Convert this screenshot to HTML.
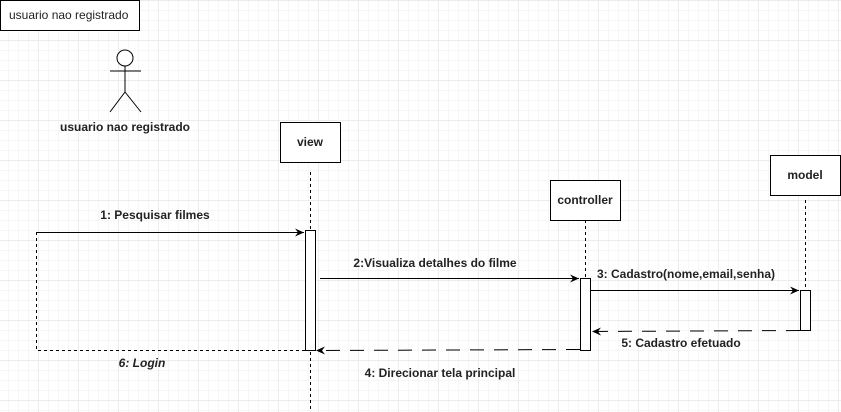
<!DOCTYPE html>
<html><head><meta charset="utf-8"><style>
body{margin:0;width:841px;height:412px;overflow:hidden;background:#fff;
background-image:linear-gradient(#ececec 1px,transparent 1px),linear-gradient(90deg,#ececec 1px,transparent 1px),linear-gradient(#f6f6f6 1px,transparent 1px),linear-gradient(90deg,#f6f6f6 1px,transparent 1px);
background-size:40px 40px,40px 40px,10px 10px,10px 10px;background-position:-2px 0,-2px 0,-2px 0,-2px 0}
svg{position:absolute;left:0;top:0}
text{font-family:"Liberation Sans",Arial,sans-serif;font-size:12px;fill:#222;font-weight:bold}
</style></head><body>
<svg width="841" height="412" viewBox="0 0 841 412">
<defs><marker id="a" markerWidth="10" markerHeight="10" refX="9" refY="5" orient="auto" markerUnits="userSpaceOnUse"><path d="M0,1 L9,5 L0,9 L3,5 Z" fill="#000"/></marker></defs>
<rect x="0.5" y="0.5" width="139" height="30" fill="#fff" stroke="#000"/>
<text x="9" y="19" style="font-weight:normal">usuario nao  registrado</text>
<g stroke="#000" fill="none" stroke-width="1">
<circle cx="125" cy="58" r="8" fill="#fff"/>
<line x1="125" y1="66" x2="125" y2="92"/><line x1="110" y1="71" x2="141" y2="71"/>
<line x1="125" y1="92" x2="110" y2="112"/><line x1="125" y1="92" x2="141" y2="112"/>
</g>
<text x="125" y="131" text-anchor="middle">usuario nao registrado</text>
<rect x="280.5" y="122.5" width="60" height="40" fill="#fff" stroke="#000"/>
<text x="310" y="146" text-anchor="middle">view</text>
<rect x="550.5" y="180.5" width="70" height="40" fill="#fff" stroke="#000"/>
<text x="585" y="204" text-anchor="middle">controller</text>
<rect x="770.5" y="155.5" width="70" height="40" fill="#fff" stroke="#000"/>
<text x="805" y="179" text-anchor="middle">model</text>
<g stroke="#000" stroke-dasharray="3,3">
<line x1="310.5" y1="172" x2="310.5" y2="412"/>
<line x1="585.5" y1="220" x2="585.5" y2="278"/>
<line x1="805.5" y1="200" x2="805.5" y2="290"/>
<path d="M305,350.5 H36.5 V232" fill="none"/>
</g>
<rect x="305.5" y="230.5" width="10" height="120" fill="#fff" stroke="#000"/>
<rect x="580.5" y="278.5" width="10" height="72" fill="#fff" stroke="#000"/>
<rect x="800.5" y="290.5" width="10" height="40" fill="#fff" stroke="#000"/>
<g stroke="#000" fill="none">
<line x1="36" y1="232.5" x2="304" y2="232.5" marker-end="url(#a)"/>
<line x1="320" y1="278.5" x2="579" y2="278.5" marker-end="url(#a)"/>
<line x1="591" y1="290.5" x2="799" y2="290.5" marker-end="url(#a)"/>
<line x1="800" y1="330.5" x2="592" y2="331.5" stroke-dasharray="14,10" marker-end="url(#a)"/>
<line x1="580" y1="349.5" x2="316" y2="350.5" stroke-dasharray="14,10" marker-end="url(#a)"/>
</g>
<text x="155" y="219" text-anchor="middle">1: Pesquisar filmes</text>
<text x="142" y="367" text-anchor="middle" font-style="italic">6: Login</text>
<text x="435" y="267" text-anchor="middle">2:Visualiza detalhes do filme</text>
<text x="597" y="278">3: Cadastro(nome,email,senha)</text>
<text x="681" y="347" text-anchor="middle">5: Cadastro efetuado</text>
<text x="440" y="377" text-anchor="middle">4: Direcionar tela principal</text>
</svg>
</body></html>
